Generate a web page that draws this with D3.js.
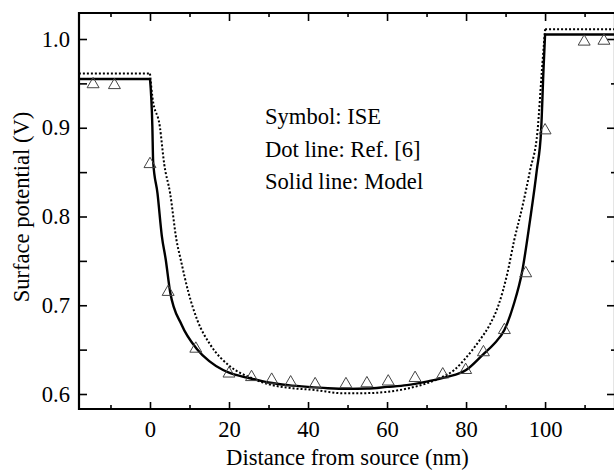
<!DOCTYPE html>
<html>
<head>
<meta charset="utf-8">
<script src="https://cdn.jsdelivr.net/npm/d3@7"></script>
<style>
  html, body { margin: 0; padding: 0; background: #fff; }
  svg text { font-family: "Liberation Serif", "Times New Roman", Tinos, "DejaVu Serif", serif; fill: #000; }
</style>
</head>
<body>
<svg id="chart" width="614" height="471"></svg>
<script>
// ---- Data ----
const iseX = [-14.4, -9, 0, 4.6, 11.6, 20, 25.7, 30.8, 35.6, 41.8, 49.6, 54.9, 60.3, 67.1, 74.1, 79.9, 84.4, 89.7, 95.1, 100, 109.9, 114.9];
const iseV = [0.949, 0.948, 0.859, 0.715, 0.651, 0.623, 0.619, 0.616, 0.613, 0.611, 0.611, 0.612, 0.614, 0.618, 0.622, 0.627, 0.647, 0.672, 0.736, 0.897, 0.997, 0.998];

const modelX = [-18, 0, 0.6, 0.8, 1.9, 3.0, 4.0, 5.1, 8, 11.8, 15, 18.5, 20, 25, 30, 35, 40, 45, 50, 55, 60, 65, 70, 75, 80, 84.4, 87, 89.7, 92, 94.2, 96.2, 97.9, 99.0, 99.6, 100, 100, 118];
const modelV = [0.955, 0.955, 0.901, 0.862, 0.826, 0.778, 0.751, 0.715, 0.678, 0.651, 0.637, 0.627, 0.624, 0.618, 0.613, 0.610, 0.608, 0.6065, 0.6058, 0.6062, 0.608, 0.610, 0.614, 0.619, 0.627, 0.645, 0.656, 0.672, 0.700, 0.738, 0.796, 0.852, 0.897, 0.965, 1.005, 1.005, 1.005];

const refX = [-18, 0, 0.6, 2.5, 3.6, 5.1, 6.7, 7.8, 9.7, 12, 15.2, 20.3, 25.7, 30, 35, 41.8, 48.9, 55, 60.3, 65, 70, 73.4, 77, 80.2, 83.5, 86, 88.2, 90.4, 92.2, 94.3, 96.2, 98.1, 99.2, 100, 100, 118];
const refV = [0.961, 0.961, 0.935, 0.901, 0.859, 0.826, 0.7735, 0.751, 0.715, 0.683, 0.656, 0.631, 0.618, 0.611, 0.607, 0.6045, 0.6008, 0.601, 0.6026, 0.606, 0.612, 0.618, 0.627, 0.642, 0.661, 0.678, 0.700, 0.735, 0.7735, 0.812, 0.852, 0.897, 0.965, 1.011, 1.011, 1.011];

const xMajorTicks = [0, 20, 40, 60, 80, 100];
const xMinorTicks = [-10, 10, 30, 50, 70, 90, 110];
const yMajorTicks = [0.6, 0.7, 0.8, 0.9, 1.0];
const yMinorTicks = [0.65, 0.75, 0.85, 0.95];

const legendLines = ["Symbol: ISE", "Dot line: Ref. [6]", "Solid line: Model"];
const xTitle = "Distance from source (nm)";
const yTitle = "Surface potential (V)";

// ---- Layout ----
const FONT = '"Liberation Serif", "Times New Roman", Tinos, "DejaVu Serif", serif';
const FS = "22.6px";
const svg = d3.select("#chart");
const L = 79, R = 615, T = 13, B = 409;

const x = d3.scaleLinear().domain([-17.97, 117.7]).range([L, R]);
const y = d3.scaleLinear().domain([0.5831, 1.0293]).range([B, T]);

const fmtX = d3.format("d");
const fmtY = d3.format(".1f");

function styleAxis(g) {
  g.select(".domain").remove();
  g.attr("font-family", null).attr("font-size", null);
  g.selectAll(".tick line").attr("stroke", "#000").attr("stroke-width", 1.6);
  g.selectAll(".tick text").style("font-size", FS).style("font-family", FONT).attr("fill", "#000");
}

// bottom
svg.append("g").attr("transform", `translate(0,${B})`)
  .call(d3.axisBottom(x).tickValues(xMajorTicks).tickSize(-7).tickPadding(12).tickFormat(fmtX))
  .call(styleAxis);
svg.append("g").attr("transform", `translate(0,${B})`)
  .call(d3.axisBottom(x).tickValues(xMinorTicks).tickSize(-4).tickFormat(""))
  .call(styleAxis);
// top
svg.append("g").attr("transform", `translate(0,${T})`)
  .call(d3.axisTop(x).tickValues(xMajorTicks).tickSize(-8).tickFormat(""))
  .call(styleAxis);
svg.append("g").attr("transform", `translate(0,${T})`)
  .call(d3.axisTop(x).tickValues(xMinorTicks).tickSize(-4).tickFormat(""))
  .call(styleAxis);
// left
svg.append("g").attr("transform", `translate(${L},0)`)
  .call(d3.axisLeft(y).tickValues(yMajorTicks).tickSize(-8).tickPadding(9).tickFormat(fmtY))
  .call(styleAxis);
svg.append("g").attr("transform", `translate(${L},0)`)
  .call(d3.axisLeft(y).tickValues(yMinorTicks).tickSize(-8).tickFormat(""))
  .call(styleAxis);
// right
svg.append("g").attr("transform", `translate(${R},0)`)
  .call(d3.axisRight(y).tickValues(yMajorTicks).tickSize(-8).tickFormat(""))
  .call(styleAxis);
svg.append("g").attr("transform", `translate(${R},0)`)
  .call(d3.axisRight(y).tickValues(yMinorTicks).tickSize(-4).tickFormat(""))
  .call(styleAxis);

// Frame
svg.append("path")
  .attr("d", `M${L},${T}H${R}V${B}H${L}Z`)
  .attr("fill", "none").attr("stroke", "#000").attr("stroke-width", 2.2);

// Clip
svg.append("clipPath").attr("id", "clip").append("rect")
  .attr("x", L).attr("y", T).attr("width", R - L).attr("height", B - T);
const plot = svg.append("g").attr("clip-path", "url(#clip)");

const line = d3.line().x(d => x(d[0])).y(d => y(d[1])).curve(d3.curveMonotoneX);
const lineLin = d3.line().x(d => x(d[0])).y(d => y(d[1]));

function drawSeries(xs, vs, attrs) {
  const pts = xs.map((v, i) => [v, vs[i]]);
  const left = pts.slice(0, 2);
  const mid = pts.slice(1, pts.length - 2);
  const right = pts.slice(pts.length - 3);
  const g = plot.append("g");
  [lineLin(left), line(mid), lineLin(right)].forEach(d => {
    const p = g.append("path").attr("d", d).attr("fill", "none");
    Object.entries(attrs).forEach(([k, v]) => p.attr(k, v));
  });
}

drawSeries(refX, refV, { stroke: "#000", "stroke-width": 2, "stroke-dasharray": "2 2" });
drawSeries(modelX, modelV, { stroke: "#000", "stroke-width": 2.4 });

// ISE triangles
const tri = d3.symbol().type(d3.symbolTriangle).size(62);
plot.selectAll(".ise").data(iseX.map((v, i) => [v, iseV[i]])).join("path")
  .attr("class", "ise")
  .attr("d", tri)
  .attr("transform", d => `translate(${x(d[0])},${y(d[1])})`)
  .attr("fill", "none").attr("stroke", "#444").attr("stroke-width", 1);

// Legend text
svg.selectAll(".leg").data(legendLines).join("text")
  .attr("class", "leg")
  .attr("x", 265)
  .attr("y", (d, i) => 124 + i * 32.5)
  .style("font-family", FONT)
  .style("font-size", FS)
  .text(d => d);

// Axis titles
svg.append("text")
  .attr("x", (L + R) / 2 + 0.5).attr("y", 465)
  .attr("text-anchor", "middle")
  .style("font-family", FONT)
  .style("font-size", FS)
  .text(xTitle);

svg.append("text")
  .attr("transform", `translate(29,${(T + B) / 2 - 4}) rotate(-90)`)
  .attr("text-anchor", "middle")
  .style("font-family", FONT)
  .style("font-size", FS)
  .text(yTitle);
</script>
</body>
</html>
